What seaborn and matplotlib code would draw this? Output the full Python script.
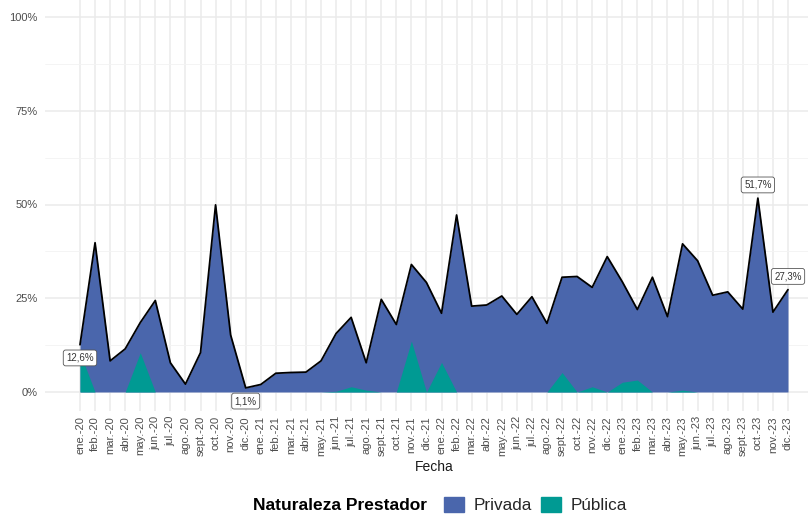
import matplotlib
matplotlib.use("Agg")
import matplotlib.pyplot as plt
from matplotlib.patches import Patch
import pandas as pd
import seaborn as sns

# ── Datos ────────────────────────────────────────────────────────────────────
meses_abrev = ["ene.", "feb.", "mar.", "abr.", "may.", "jun.",
               "jul.", "ago.", "sept.", "oct.", "nov.", "dic."]
anios = ["20", "21", "22", "23"]
fechas = [f"{m}-{a}" for a in anios for m in meses_abrev]

# tasa total (línea negra / área Privada) en %
tasa_total = [12.6, 39.8, 8.3, 11.5, 18.5, 24.4, 7.8, 2.1, 10.5, 49.9, 15.2, 1.1,
              2.0, 5.0, 5.2, 5.3, 8.3, 15.6, 19.9, 7.8, 24.7, 18.0, 34.0, 29.2,
              21.0, 47.2, 22.9, 23.2, 25.6, 20.7, 25.4, 18.3, 30.6, 30.8, 27.9, 36.1,
              29.4, 22.0, 30.6, 20.1, 39.5, 35.0, 25.8, 26.7, 22.1, 51.7, 21.3, 27.3]

# tasa prestador público en %
tasa_publica = [10.5, 0, 0, 0, 10.5, 0, 0, 0, 0, 0, 0, 0,
                0, 0, 0, 0, 0, 0.2, 1.4, 0.5, 0, 0, 13.6, 0,
                7.9, 0, 0, 0, 0, 0, 0, 0, 5.2, 0, 1.4, 0,
                2.6, 3.2, 0, 0, 0.5, 0, 0, 0, 0, 0, 0, 0]

etiquetas_abajo = ["ene.-20", "dic.-20"]
etiquetas_arriba = ["oct.-23", "dic.-23"]

AZUL = "#4A66AC"
TEAL = "#009A93"

df = pd.DataFrame({"fecha": fechas, "total": tasa_total, "publica": tasa_publica})
df["x"] = range(len(df))

# ── Gráfico ──────────────────────────────────────────────────────────────────
sns.set_theme(style="white")
plt.rcParams["font.family"] = ["Liberation Sans", "DejaVu Sans"]

W, H = 812, 514
fig = plt.figure(figsize=(W / 100, H / 100), dpi=100)
ax = fig.add_axes([45 / W, 103.25 / H, 763 / W, 412.5 / H])

ax.fill_between(df["x"], 0, df["total"], color=AZUL, lw=0, zorder=2)
ax.fill_between(df["x"], 0, df["publica"], color=TEAL, lw=0, zorder=3)
sns.lineplot(data=df, x="x", y="total", color="black", lw=1.3, ax=ax, zorder=4)

for _, fila in df.iterrows():
    if fila["fecha"] in etiquetas_abajo or fila["fecha"] in etiquetas_arriba:
        dy = -9.5 if fila["fecha"] in etiquetas_abajo else 9.5
        texto = f"{fila['total']:.1f}%".replace(".", ",")
        ax.annotate(texto, (fila["x"], fila["total"]), xytext=(0, dy),
                    textcoords="offset points", ha="center", va="center",
                    fontsize=7, color="#333333", zorder=6,
                    bbox=dict(boxstyle="round,pad=0.3,rounding_size=0.25",
                              fc="white", ec="#555555", lw=0.6))

ax.set_xlim(-35 * 47 / 708, 47 + 20 * 47 / 708)
ax.set_ylim(-5, 105)
ax.set_xticks(df["x"])
ax.set_xticklabels(df["fecha"], rotation=90, fontsize=8, color="#4D4D4D")
ax.set_yticks([0, 25, 50, 75, 100])
ax.set_yticklabels(["0%", "25%", "50%", "75%", "100%"], fontsize=8, color="#4D4D4D")
ax.set_yticks([12.5, 37.5, 62.5, 87.5], minor=True)
ax.tick_params(axis="x", length=0, pad=3.8)
ax.tick_params(axis="y", which="both", length=0, pad=5.3)
ax.grid(which="major", color="#EBEBEB", lw=1.1)
ax.grid(which="minor", axis="y", color="#F3F3F3", lw=0.6)
ax.set_axisbelow(True)
for s in ax.spines.values():
    s.set_visible(False)
ax.set_xlabel("")
ax.set_ylabel("")

fig.text(434.5 / W, 1 - 467 / H, "Fecha", ha="center", va="center",
         fontsize=10, color="#1A1A1A")

# leyenda inferior
fig.text(427 / W, 1 - 505 / H, "Naturaleza Prestador", ha="right", va="center",
         fontsize=12.5, fontweight="bold", color="black")
fig.legend(handles=[Patch(color=AZUL, label="Privada"), Patch(color=TEAL, label="Pública")],
           loc="center left", bbox_to_anchor=(435 / W, 1 - 505 / H), ncol=2,
           frameon=False, fontsize=12.3, borderpad=0, handlelength=1.17,
           handleheight=0.94, handletextpad=0.58, columnspacing=0.53)

fig.savefig("out.png", dpi=100, facecolor="white")
